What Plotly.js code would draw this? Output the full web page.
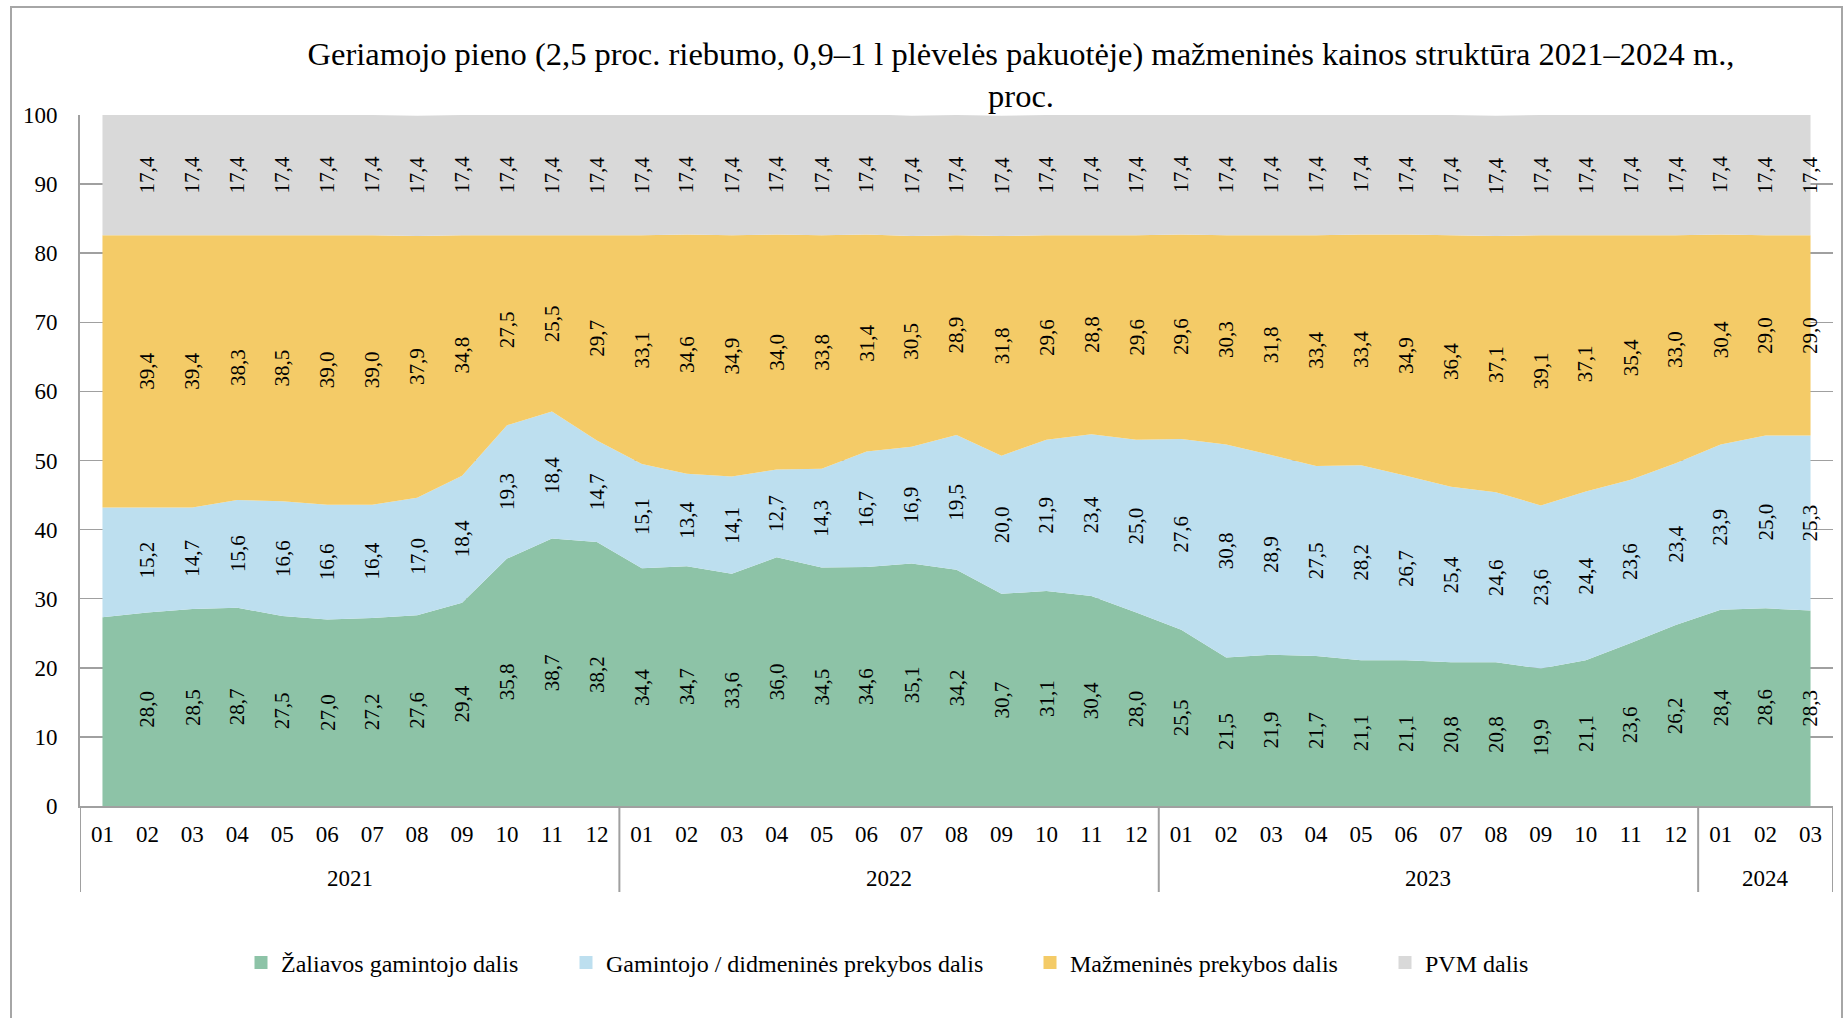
<!DOCTYPE html>
<html>
<head>
<meta charset="utf-8">
<script src="https://cdn.plot.ly/plotly-3.0.1.min.js"></script>
<style>
html, body { margin: 0; padding: 0; background: #ffffff; }
#chart { width: 1845px; height: 1018px; }
</style>
</head>
<body>
<div id="chart"></div>
<script>
// ---- data ----
const years = ['2021','2021','2021','2021','2021','2021','2021','2021','2021','2021','2021','2021',
               '2022','2022','2022','2022','2022','2022','2022','2022','2022','2022','2022','2022',
               '2023','2023','2023','2023','2023','2023','2023','2023','2023','2023','2023','2023',
               '2024','2024','2024'];
const months = ['01','02','03','04','05','06','07','08','09','10','11','12',
                '01','02','03','04','05','06','07','08','09','10','11','12',
                '01','02','03','04','05','06','07','08','09','10','11','12',
                '01','02','03'];

const zaliavos = [27.3, 28.0, 28.5, 28.7, 27.5, 27.0, 27.2, 27.6, 29.4, 35.8, 38.7, 38.2,
                  34.4, 34.7, 33.6, 36.0, 34.5, 34.6, 35.1, 34.2, 30.7, 31.1, 30.4, 28.0,
                  25.5, 21.5, 21.9, 21.7, 21.1, 21.1, 20.8, 20.8, 19.9, 21.1, 23.6, 26.2,
                  28.4, 28.6, 28.3];
const didmenine = [15.9, 15.2, 14.7, 15.6, 16.6, 16.6, 16.4, 17.0, 18.4, 19.3, 18.4, 14.7,
                   15.1, 13.4, 14.1, 12.7, 14.3, 16.7, 16.9, 19.5, 20.0, 21.9, 23.4, 25.0,
                   27.6, 30.8, 28.9, 27.5, 28.2, 26.7, 25.4, 24.6, 23.6, 24.4, 23.6, 23.4,
                   23.9, 25.0, 25.3];
const mazmenine = [39.4, 39.4, 39.4, 38.3, 38.5, 39.0, 39.0, 37.9, 34.8, 27.5, 25.5, 29.7,
                   33.1, 34.6, 34.9, 34.0, 33.8, 31.4, 30.5, 28.9, 31.8, 29.6, 28.8, 29.6,
                   29.6, 30.3, 31.8, 33.4, 33.4, 34.9, 36.4, 37.1, 39.1, 37.1, 35.4, 33.0,
                   30.4, 29.0, 29.0];
const pvm = [17.4, 17.4, 17.4, 17.4, 17.4, 17.4, 17.4, 17.4, 17.4, 17.4, 17.4, 17.4,
             17.4, 17.4, 17.4, 17.4, 17.4, 17.4, 17.4, 17.4, 17.4, 17.4, 17.4, 17.4,
             17.4, 17.4, 17.4, 17.4, 17.4, 17.4, 17.4, 17.4, 17.4, 17.4, 17.4, 17.4,
             17.4, 17.4, 17.4];

const seriesNames = ['Žaliavos gamintojo dalis', 'Gamintojo / didmeninės prekybos dalis',
                     'Mažmeninės prekybos dalis', 'PVM dalis'];
const yTicks = [0, 10, 20, 30, 40, 50, 60, 70, 80, 90, 100];
const titleText = 'Geriamojo pieno (2,5 proc. riebumo, 0,9–1 l plėvelės pakuotėje) mažmeninės kainos struktūra 2021–2024 m.,<br>proc.';

// ---- styling ----
const colors = ['#8DC3A7', '#BDDFEF', '#F4CB67', '#D9D9D9'];
const FONT = 'Liberation Serif, Times New Roman, serif';
const axisGray = '#A0A0A0';
const series = [zaliavos, didmenine, mazmenine, pvm];

// unique category keys (year-month), labelled by month
const cats = years.map((y, i) => y + '-' + months[i]);

const plotL = 80, plotR = 1833, plotT = 115, plotB = 806;
const pw = plotR - plotL, ph = plotB - plotT;
const px2x = (px) => (px - plotL) / pw;
const px2y = (py) => (plotB - py) / ph;

const traces = [];
series.forEach((vals, s) => {
  traces.push({
    type: 'scatter',
    x: cats,
    y: vals,
    stackgroup: 'one',
    mode: 'none',
    fillcolor: colors[s],
    line: { width: 0 },
    name: seriesNames[s],
    showlegend: false,
    hoverinfo: 'skip'
  });
});

// legend proxies (square swatches), no visible marks
const legendNames = ['legend', 'legend2', 'legend3', 'legend4'];
series.forEach((vals, s) => {
  traces.push({
    type: 'scatter',
    x: [null],
    y: [null],
    xaxis: 'x2',
    yaxis: 'y2',
    mode: 'markers',
    marker: { symbol: 'square', size: 13, color: colors[s] },
    name: seriesNames[s],
    showlegend: true,
    legend: legendNames[s],
    hoverinfo: 'skip'
  });
});

// data labels: centred in each stacked band, rotated (first month unlabeled, as in the original)
const annotations = [];
for (let i = 1; i < zaliavos.length; i++) {
  let base = 0;
  series.forEach((vals) => {
    const v = vals[i];
    annotations.push({
      x: i, y: base + v / 2, xref: 'x', yref: 'y',
      text: v.toFixed(1).replace('.', ','),
      showarrow: false, textangle: -90,
      font: { family: FONT, size: 21, color: '#000000' },
      xanchor: 'center', yanchor: 'middle'
    });
    base += v;
  });
}

// year group labels and dividers
const shapes = [];
const yearGroups = [];
years.forEach((y, i) => {
  const g = yearGroups[yearGroups.length - 1];
  if (g && g.year === y) g.last = i;
  else yearGroups.push({ year: y, first: i, last: i });
});
const dividerBottom = px2y(892);
yearGroups.forEach((g, k) => {
  annotations.push({
    x: (g.first + g.last) / 2, y: px2y(878), xref: 'x', yref: 'paper',
    text: g.year, showarrow: false,
    font: { family: FONT, size: 23, color: '#000000' },
    xanchor: 'center', yanchor: 'middle'
  });
  shapes.push({
    type: 'line', xref: 'x', yref: 'paper',
    x0: g.first - 0.5, x1: g.first - 0.5, y0: 0, y1: dividerBottom,
    line: { color: axisGray, width: 2 }, layer: 'above'
  });
  if (k === yearGroups.length - 1) {
    shapes.push({
      type: 'line', xref: 'x', yref: 'paper',
      x0: g.last + 0.5, x1: g.last + 0.5, y0: 0, y1: dividerBottom,
      line: { color: axisGray, width: 2 }, layer: 'above'
    });
  }
});

// outer chart frame
shapes.push({
  type: 'rect', xref: 'paper', yref: 'paper',
  x0: px2x(11), x1: px2x(1842), y0: px2y(1030), y1: px2y(7),
  line: { color: '#A6A6A6', width: 2 }, fillcolor: 'rgba(0,0,0,0)', layer: 'above'
});

const legendMarkerLefts = [261, 586, 1050, 1405];
const legendCommon = {
  orientation: 'h', xanchor: 'left', yanchor: 'middle', y: px2y(963),
  font: { family: FONT, size: 24, color: '#000000' },
  bgcolor: 'rgba(0,0,0,0)', borderwidth: 0,
  itemclick: false, itemdoubleclick: false
};

const layout = {
  width: 1845,
  height: 1018,
  paper_bgcolor: '#ffffff',
  plot_bgcolor: '#ffffff',
  margin: { l: plotL, r: 1845 - plotR, t: plotT, b: 1018 - plotB, pad: 0 },
  font: { family: FONT, size: 23, color: '#000000' },
  title: {
    text: titleText,
    font: { family: FONT, size: 32.5, color: '#000000' },
    x: px2x(1021), xref: 'paper', xanchor: 'center',
    y: 1 - 65 / 1018, yanchor: 'top'
  },
  xaxis: {
    type: 'category',
    range: [-0.5, cats.length - 0.5],
    tickvals: cats,
    ticktext: months,
    showline: true, linecolor: axisGray, linewidth: 2,
    ticks: '', showgrid: false, zeroline: false,
    ticklabelstandoff: 6,
    tickfont: { family: FONT, size: 23, color: '#000000' },
    fixedrange: true
  },
  yaxis: {
    range: [0, 100],
    tickvals: yTicks,
    ticktext: yTicks.map(String),
    showline: true, linecolor: axisGray, linewidth: 2,
    ticks: '', showgrid: true, gridcolor: axisGray, gridwidth: 1.5,
    zeroline: false, ticklabelstandoff: 16,
    tickfont: { family: FONT, size: 23, color: '#000000' },
    fixedrange: true
  },
  xaxis2: { visible: false, overlaying: 'x', fixedrange: true },
  yaxis2: { visible: false, overlaying: 'y', fixedrange: true },
  legend: Object.assign({}, legendCommon, { x: px2x(legendMarkerLefts[0] - 20) }),
  legend2: Object.assign({}, legendCommon, { x: px2x(legendMarkerLefts[1] - 20) }),
  legend3: Object.assign({}, legendCommon, { x: px2x(legendMarkerLefts[2] - 20) }),
  legend4: Object.assign({}, legendCommon, { x: px2x(legendMarkerLefts[3] - 20) }),
  annotations: annotations,
  shapes: shapes,
  hovermode: false,
  showlegend: true
};

Plotly.newPlot('chart', traces, layout, { displayModeBar: false, staticPlot: true });
</script>
</body>
</html>
